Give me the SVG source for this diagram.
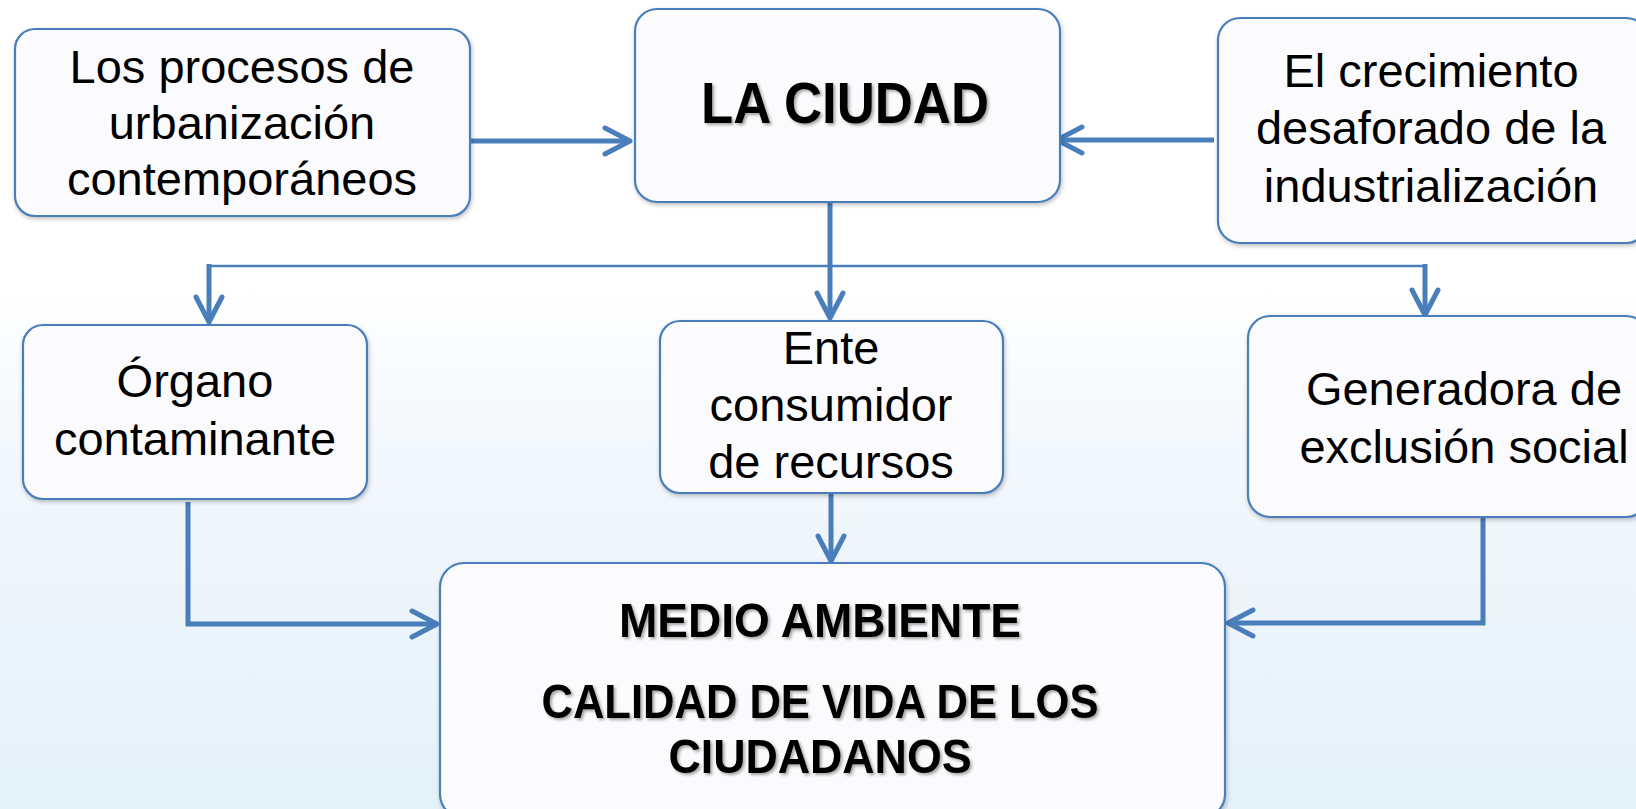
<svg xmlns="http://www.w3.org/2000/svg" width="1636" height="809" viewBox="0 0 1636 809">
<defs>
<linearGradient id="bg" x1="0" y1="0" x2="0" y2="1">
<stop offset="0" stop-color="#ffffff"/>
<stop offset="0.35" stop-color="#ffffff"/>
<stop offset="0.55" stop-color="#f3f8fc"/>
<stop offset="1" stop-color="#e4f1f9"/>
</linearGradient>
<filter id="boxsh" x="-5%" y="-5%" width="110%" height="115%">
<feDropShadow dx="1" dy="2" stdDeviation="2" flood-color="#000" flood-opacity="0.25"/>
</filter>
<filter id="txtsh" x="-5%" y="-20%" width="110%" height="140%">
<feDropShadow dx="2" dy="2" stdDeviation="1.5" flood-color="#000" flood-opacity="0.35"/>
</filter>
<marker id="arr" markerUnits="userSpaceOnUse" markerWidth="40" markerHeight="40" viewBox="-30 -20 40 40" refX="0" refY="0" orient="auto">
<path d="M -25 -13 L 0 0 L -25 13" fill="none" stroke="#4a7ebb" stroke-width="5" stroke-linecap="round" stroke-linejoin="round"/>
</marker>
</defs>
<style>
.box{fill:#fbfbfe;stroke:#4a7ebb;stroke-width:2.2;filter:url(#boxsh)}
.t{font-family:"Liberation Sans",Arial,sans-serif;font-size:47px;fill:#000;text-anchor:middle}
.b{font-family:"Liberation Sans",Arial,sans-serif;font-weight:bold;fill:#000;text-anchor:middle;filter:url(#txtsh)}
.c{fill:none;stroke:#4a7ebb;stroke-width:5}
.thin{fill:none;stroke:#4a7ebb;stroke-width:2.5}
</style>
<rect x="0" y="0" width="1636" height="809" fill="url(#bg)"/>

<g id="connectors">
<path class="thin" d="M 209 266 L 1426 266"/>
<path class="c" d="M 464 141 L 630 141" marker-end="url(#arr)"/>
<path class="c" d="M 1214 140 L 1057 140" marker-end="url(#arr)"/>
<path class="c" d="M 830 202 L 830 318" marker-end="url(#arr)"/>
<path class="c" d="M 209 264 L 209 322" marker-end="url(#arr)"/>
<path class="c" d="M 1425 264 L 1425 315" marker-end="url(#arr)"/>
<path class="c" d="M 188 502 L 188 624 L 437 624" marker-end="url(#arr)"/>
<path class="c" d="M 831 493 L 831 561" marker-end="url(#arr)"/>
<path class="c" d="M 1483 517 L 1483 623 L 1228 623" marker-end="url(#arr)"/>
</g>

<g id="n-procesos">
<rect class="box" x="15" y="29" width="455" height="187" rx="20"/>
<text class="t" x="242" y="83">Los procesos de</text>
<text class="t" x="242" y="139">urbanización</text>
<text class="t" x="242" y="195">contemporáneos</text>
</g>

<g id="n-ciudad">
<rect class="box" x="635" y="9" width="425" height="193" rx="22"/>
<text class="b" x="845" y="123" font-size="57" textLength="288" lengthAdjust="spacingAndGlyphs">LA CIUDAD</text>
</g>

<g id="n-crecimiento">
<rect class="box" x="1218" y="18" width="430" height="225" rx="22"/>
<text class="t" x="1431" y="87">El crecimiento</text>
<text class="t" x="1431" y="144">desaforado de la</text>
<text class="t" x="1431" y="202">industrialización</text>
</g>

<g id="n-organo">
<rect class="box" x="23" y="325" width="344" height="174" rx="20"/>
<text class="t" x="195" y="397">Órgano</text>
<text class="t" x="195" y="455">contaminante</text>
</g>

<g id="n-ente">
<rect class="box" x="660" y="321" width="343" height="172" rx="20"/>
<text class="t" x="831" y="364">Ente</text>
<text class="t" x="831" y="421">consumidor</text>
<text class="t" x="831" y="478">de recursos</text>
</g>

<g id="n-generadora">
<rect class="box" x="1248" y="316" width="400" height="201" rx="22"/>
<text class="t" x="1464" y="405">Generadora de</text>
<text class="t" x="1464" y="463">exclusión social</text>
</g>

<g id="n-medio">
<rect class="box" x="440" y="563" width="785" height="255" rx="24"/>
<text class="b" x="820" y="637" font-size="48" textLength="402" lengthAdjust="spacingAndGlyphs">MEDIO AMBIENTE</text>
<text class="b" x="820" y="718" font-size="48" textLength="557" lengthAdjust="spacingAndGlyphs">CALIDAD DE VIDA DE LOS</text>
<text class="b" x="820" y="773" font-size="48" textLength="303" lengthAdjust="spacingAndGlyphs">CIUDADANOS</text>
</g>
</svg>
